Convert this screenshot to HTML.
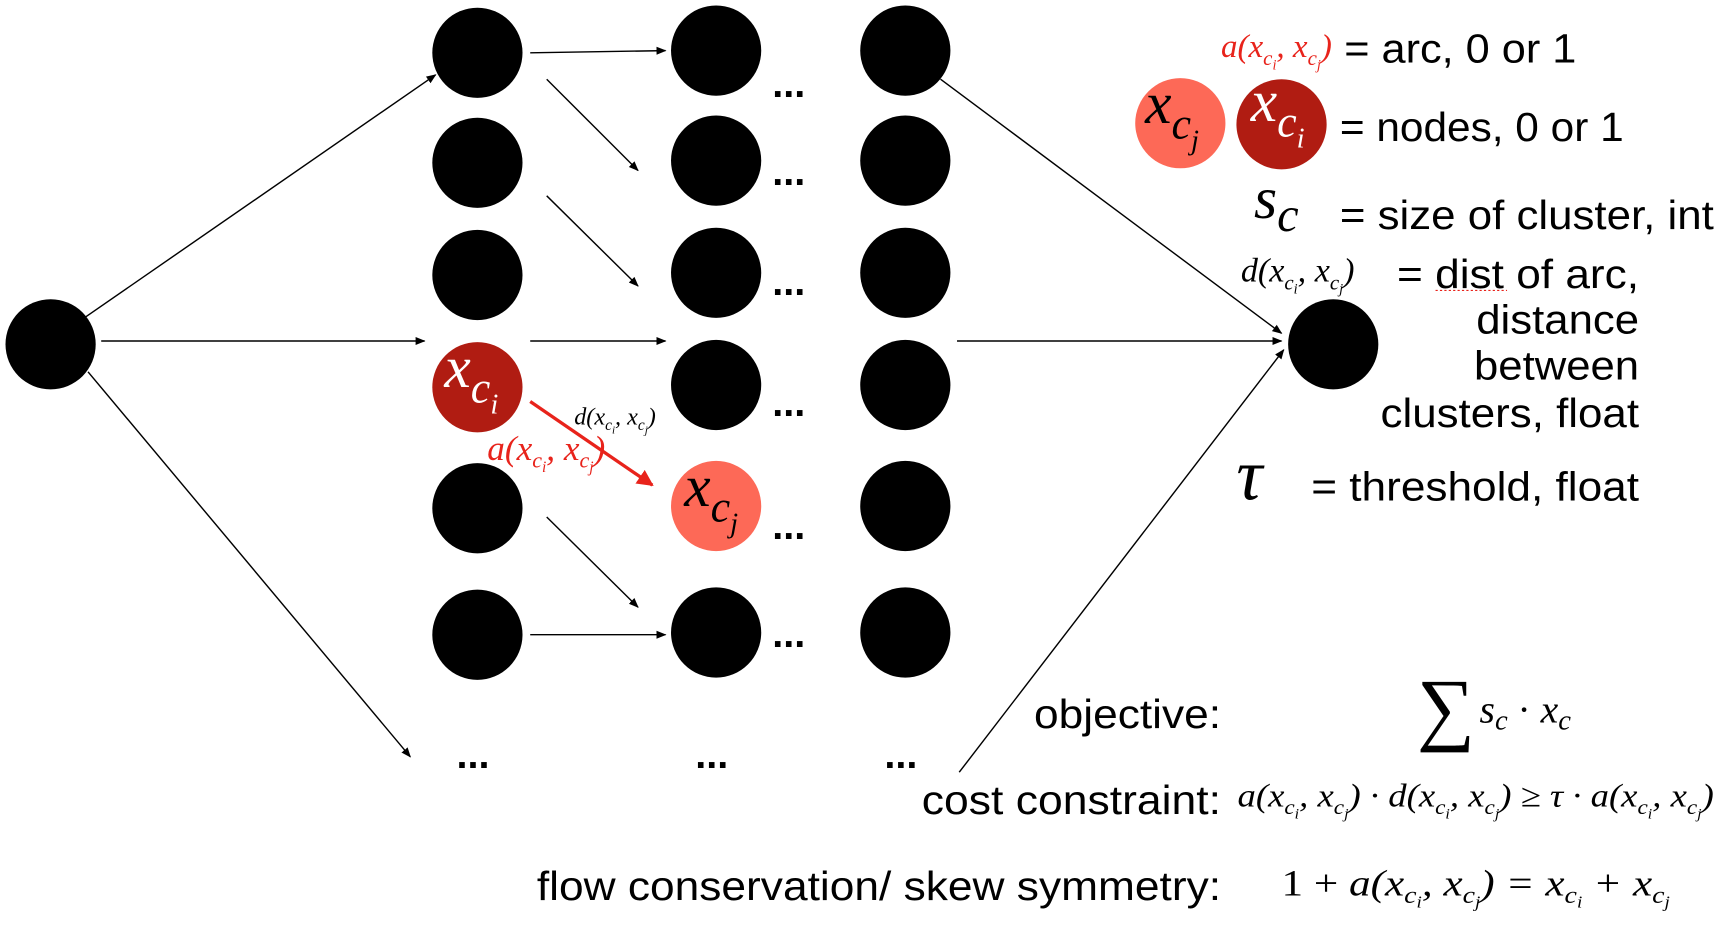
<!DOCTYPE html>
<html><head><meta charset="utf-8"><style>
html,body{margin:0;padding:0;background:#fff;}
svg{display:block}
.t{font-family:"Liberation Sans",Arial,sans-serif;font-size:37px;fill:#000}
.m{font-family:"Liberation Serif",serif;font-style:italic;fill:#000}
.d{font-family:"Liberation Sans",Arial,sans-serif;font-size:36px;font-weight:bold;fill:#000}
</style></head><body>
<svg width="1720" height="938" viewBox="0 0 1563.6 852.7">
<defs>
<marker id="ah" viewBox="0 0 10 10" refX="9" refY="5" markerWidth="7" markerHeight="7" orient="auto"><path d="M0,1 L10,5 L0,9 z" fill="#000"/></marker>
<marker id="ahr" viewBox="0 0 10 10" refX="9" refY="5" markerWidth="5" markerHeight="5" orient="auto"><path d="M0,0 L10,5 L0,10 z" fill="#e8231b"/></marker>
</defs>
<g stroke="#000" stroke-width="1.3" marker-end="url(#ah)">
<line x1="78" y1="288" x2="396" y2="68"/>
<line x1="92" y1="310" x2="386" y2="310"/>
<line x1="80" y1="338" x2="373" y2="688"/>
<line x1="482" y1="48" x2="605" y2="46"/>
<line x1="497" y1="72" x2="580" y2="155"/>
<line x1="497" y1="178" x2="580" y2="260"/>
<line x1="482" y1="310" x2="605" y2="310"/>
<line x1="497" y1="470" x2="580" y2="552"/>
<line x1="482" y1="577" x2="605" y2="577"/>
<line x1="855" y1="72" x2="1165" y2="303"/>
<line x1="870" y1="310" x2="1165" y2="310"/>
<line x1="872" y1="702" x2="1167" y2="318"/>
</g>
<line x1="482" y1="365" x2="593" y2="441" stroke="#e8231b" stroke-width="3" marker-end="url(#ahr)"/>
<g fill="#000">
<circle cx="46" cy="313" r="41"/>
<circle cx="434" cy="48" r="41"/><circle cx="434" cy="148" r="41"/><circle cx="434" cy="250" r="41"/>
<circle cx="434" cy="352" r="41" fill="#b01c12"/>
<circle cx="434" cy="462" r="41"/><circle cx="434" cy="577" r="41"/>
<circle cx="651" cy="46" r="41"/><circle cx="651" cy="146" r="41"/><circle cx="651" cy="248" r="41"/><circle cx="651" cy="350" r="41"/>
<circle cx="651" cy="460" r="41" fill="#fd6957"/>
<circle cx="651" cy="575" r="41"/>
<circle cx="823" cy="46" r="41"/><circle cx="823" cy="146" r="41"/><circle cx="823" cy="248" r="41"/><circle cx="823" cy="350" r="41"/><circle cx="823" cy="460" r="41"/><circle cx="823" cy="575" r="41"/>
<circle cx="1212" cy="313" r="41"/>
<circle cx="1073" cy="112" r="41" fill="#fd6957"/>
<circle cx="1165" cy="113" r="41" fill="#b01c12"/>
</g>
<g class="d">
<text x="702" y="88">...</text><text x="702" y="168">...</text><text x="702" y="268">...</text><text x="702" y="378">...</text><text x="702" y="490">...</text><text x="702" y="588">...</text>
<text x="415" y="698">...</text><text x="632" y="698">...</text><text x="804" y="698">...</text>
</g>
<g>
<text class="m" x="404" y="352" font-size="54" style="fill:#fff">x<tspan font-size="40" dy="14">c</tspan><tspan font-size="26" dy="10">i</tspan></text>
<text class="m" x="622" y="460" font-size="54">x<tspan font-size="40" dy="14">c</tspan><tspan font-size="26" dy="10">j</tspan></text>
<text class="m" x="1041" y="112" font-size="54">x<tspan font-size="40" dy="14">c</tspan><tspan font-size="26" dy="10">j</tspan></text>
<text class="m" x="1137" y="110" font-size="54" style="fill:#fff">x<tspan font-size="40" dy="14">c</tspan><tspan font-size="26" dy="10">i</tspan></text>
</g>
<text class="m" x="522" y="386" font-size="22">d(x<tspan font-size="14" dy="5">c</tspan><tspan font-size="10" dy="3">i</tspan><tspan dy="-8">, x</tspan><tspan font-size="14" dy="5">c</tspan><tspan font-size="10" dy="3">j</tspan><tspan dy="-8">)</tspan></text>
<text class="m" x="443" y="418" font-size="32" style="fill:#e8231b">a(x<tspan font-size="20" dy="7">c</tspan><tspan font-size="14" dy="4">i</tspan><tspan dy="-11">, x</tspan><tspan font-size="20" dy="7">c</tspan><tspan font-size="14" dy="4">j</tspan><tspan dy="-11">)</tspan></text>
<g>
<text class="m" x="1110" y="52" font-size="30" style="fill:#e8231b">a(x<tspan font-size="19" dy="7">c</tspan><tspan font-size="13" dy="4">i</tspan><tspan dy="-11">, x</tspan><tspan font-size="19" dy="7">c</tspan><tspan font-size="13" dy="4">j</tspan><tspan dy="-11">)</tspan></text>
<text class="t" x="1222" y="57" textLength="211" lengthAdjust="spacingAndGlyphs">= arc, 0 or 1</text>
<text class="t" x="1218" y="128" textLength="258" lengthAdjust="spacingAndGlyphs">= nodes, 0 or 1</text>
<text class="m" x="1140" y="198" font-size="54">s<tspan font-size="44" dy="12">c</tspan></text>
<text class="t" x="1218" y="208" textLength="340" lengthAdjust="spacingAndGlyphs">= size of cluster, int</text>
<text class="m" x="1128" y="256" font-size="31">d(x<tspan font-size="19" dy="7">c</tspan><tspan font-size="13" dy="4">i</tspan><tspan dy="-11">, x</tspan><tspan font-size="19" dy="7">c</tspan><tspan font-size="13" dy="4">j</tspan><tspan dy="-11">)</tspan></text>
<text class="t" x="1270" y="262" textLength="220" lengthAdjust="spacingAndGlyphs">= dist of arc,</text>
<line x1="1305" y1="264" x2="1370" y2="264" stroke="#e8231b" stroke-width="1" stroke-dasharray="2,2"/>
<text class="t" x="1342" y="303" textLength="148" lengthAdjust="spacingAndGlyphs">distance</text>
<text class="t" x="1340" y="345" textLength="150" lengthAdjust="spacingAndGlyphs">between</text>
<text class="t" x="1255" y="388" textLength="235" lengthAdjust="spacingAndGlyphs">clusters, float</text>
<text class="m" x="1124" y="454" font-size="66">τ</text>
<text class="t" x="1192" y="455" textLength="298" lengthAdjust="spacingAndGlyphs">= threshold, float</text>
</g>
<g>
<text class="t" x="940" y="662" textLength="170" lengthAdjust="spacingAndGlyphs">objective:</text>
<text class="m" x="1288" y="668" font-size="74" style="font-style:normal">∑</text>
<text class="m" x="1345" y="657" font-size="36">s<tspan font-size="26" dy="6">c</tspan><tspan dy="-6" style="font-style:normal"> · </tspan>x<tspan font-size="26" dy="6">c</tspan></text>
<text class="t" x="838" y="740" textLength="272" lengthAdjust="spacingAndGlyphs">cost constraint:</text>
<text class="m" x="1125" y="733" font-size="30" textLength="433" lengthAdjust="spacingAndGlyphs">a(x<tspan font-size="19" dy="7">c</tspan><tspan font-size="13" dy="4">i</tspan><tspan dy="-11">, x</tspan><tspan font-size="19" dy="7">c</tspan><tspan font-size="13" dy="4">j</tspan><tspan dy="-11">) · d(x</tspan><tspan font-size="19" dy="7">c</tspan><tspan font-size="13" dy="4">i</tspan><tspan dy="-11">, x</tspan><tspan font-size="19" dy="7">c</tspan><tspan font-size="13" dy="4">j</tspan><tspan dy="-11">) ≥ τ · a(x</tspan><tspan font-size="19" dy="7">c</tspan><tspan font-size="13" dy="4">i</tspan><tspan dy="-11">, x</tspan><tspan font-size="19" dy="7">c</tspan><tspan font-size="13" dy="4">j</tspan><tspan dy="-11">)</tspan></text>
<text class="t" x="488" y="818" textLength="622" lengthAdjust="spacingAndGlyphs">flow conservation/ skew symmetry:</text>
<text class="m" x="1165" y="814" font-size="34" textLength="353" lengthAdjust="spacingAndGlyphs"><tspan style="font-style:normal">1 + </tspan>a(x<tspan font-size="22" dy="7">c</tspan><tspan font-size="15" dy="4">i</tspan><tspan dy="-11">, x</tspan><tspan font-size="22" dy="7">c</tspan><tspan font-size="15" dy="4">j</tspan><tspan dy="-11">) = x</tspan><tspan font-size="22" dy="7">c</tspan><tspan font-size="15" dy="4">i</tspan><tspan dy="-11"> + x</tspan><tspan font-size="22" dy="7">c</tspan><tspan font-size="15" dy="4">j</tspan></text>
</g>
</svg>
</body></html>
